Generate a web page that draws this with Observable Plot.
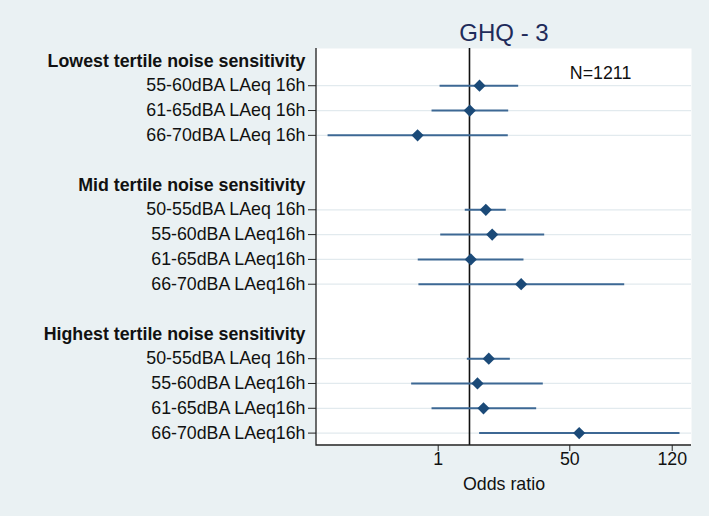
<!DOCTYPE html>
<html>
<head>
<meta charset="utf-8">
<script src="https://cdn.jsdelivr.net/npm/d3@7"></script>
<script src="https://cdn.jsdelivr.net/npm/@observablehq/plot@0.6"></script>
<style>
  html, body { margin: 0; padding: 0; background: #eaf1f3; }
  #chart svg { display: block; }
</style>
</head>
<body>
<div id="chart"></div>
<script>
// ---- data ----
const title = "GHQ - 3";
const sampleNote = "N=1211";
const groupNames = [
  "Lowest tertile noise sensitivity",
  "Mid tertile noise sensitivity",
  "Highest tertile noise sensitivity"
];
const rowGroup = [0, 0, 0, 1, 1, 1, 1, 2, 2, 2, 2];
const rowLabels = [
  "55-60dBA LAeq 16h", "61-65dBA LAeq 16h", "66-70dBA LAeq 16h",
  "50-55dBA LAeq 16h", "55-60dBA LAeq16h", "61-65dBA LAeq16h", "66-70dBA LAeq16h",
  "50-55dBA LAeq 16h", "55-60dBA LAeq16h", "61-65dBA LAeq16h", "66-70dBA LAeq16h"
];
const oddsRatio = [1.105, 1.003, 0.596, 1.177, 1.254, 1.013, 1.674, 1.212, 1.083, 1.150, 2.985];
const ciLow     = [0.742, 0.685, 0.243, 0.954, 0.747, 0.597, 0.601, 0.974, 0.559, 0.685, 1.101];
const ciHigh    = [1.625, 1.471, 1.465, 1.436, 2.106, 1.713, 4.676, 1.495, 2.077, 1.944, 8.115];
const referenceOR = 1;
const xTickValues = [0.732, 2.718, 7.545];
const xTickLabels = ["1", "50", "120"];
const xDomain = [0.2176, 9.145];

// ---- build slots: header, rows, blank ----
const headers = [];
const rows = [];
let slot = 0;
groupNames.forEach((g, gi) => {
  headers.push({slot, name: g});
  slot++;
  rowLabels.forEach((lab, i) => {
    if (rowGroup[i] === gi) {
      rows.push({slot, label: lab, or: oddsRatio[i], lo: ciLow[i], hi: ciHigh[i]});
      slot++;
    }
  });
  if (gi < groupNames.length - 1) slot++;
});
const slotDomain = d3.range(slot);
const labelBySlot = new Map(rows.map(r => [r.slot, r.label]));
const xTicks = xTickValues.map((v, i) => ({v, label: xTickLabels[i]}));

const font = "'Liberation Sans', Arial, Helvetica, sans-serif";

// left + bottom axis lines (frame edges)
function axisLines() {
  const dims = [...arguments].find(a => a && a.marginLeft !== undefined && a.width !== undefined);
  const {width, height, marginLeft, marginRight, marginTop, marginBottom} = dims;
  const ns = "http://www.w3.org/2000/svg";
  const p = document.createElementNS(ns, "path");
  const x0 = marginLeft, y0 = marginTop, y1 = height - marginBottom, x1 = width - marginRight;
  p.setAttribute("d", `M${x0},${y0}V${y1}H${x1}`);
  p.setAttribute("fill", "none");
  p.setAttribute("stroke", "#222");
  p.setAttribute("stroke-width", "1.3");
  return p;
}

const chart = Plot.plot({
  width: 709,
  height: 516,
  marginLeft: 316,
  marginRight: 18,
  marginTop: 48,
  marginBottom: 71,
  style: {fontFamily: font, fontSize: "17.8px", background: "transparent", color: "#111"},
  x: {type: "log", domain: xDomain},
  y: {type: "point", domain: slotDomain, padding: 0.5, round: false},
  marks: [
    Plot.frame({fill: "white", stroke: "none"}),
    Plot.ruleY(rows, {y: "slot", stroke: "#e2eaee", strokeWidth: 1.2}),
    Plot.ruleX([referenceOR], {stroke: "#111", strokeWidth: 1.6}),
    Plot.link(rows, {x1: "lo", x2: "hi", y1: "slot", y2: "slot", stroke: "#3d6894", strokeWidth: 2}),
    Plot.dot(rows, {x: "or", y: "slot", symbol: "diamond2", r: 5.5, fill: "#1b4a78", stroke: "none"}),
    Plot.axisY({
      ticks: rows.map(r => r.slot),
      tickFormat: s => labelBySlot.get(s),
      tickSize: 8, tickPadding: 3, stroke: "#222", label: null
    }),
    Plot.text(headers, {y: "slot", text: "name", frameAnchor: "left", textAnchor: "end", dx: -11, fontWeight: "bold"}),
    Plot.axisX({
      ticks: xTickValues,
      tickFormat: () => "",
      tickSize: 6, tickPadding: 5, stroke: "#222",
      label: "Odds ratio", labelAnchor: "center", labelArrow: "none", labelOffset: 44
    }),
    Plot.text(xTicks, {x: "v", text: "label", frameAnchor: "bottom", dy: 19}),
    axisLines,
    Plot.text([sampleNote], {x: () => 2.72, y: () => 0, text: d => d, textAnchor: "start", dy: 12}),
    Plot.text([title], {frameAnchor: "top", text: d => d, dy: -8, lineAnchor: "bottom", fontSize: 24, fill: "#1e2b5a"})
  ]
});
document.getElementById("chart").appendChild(chart);
</script>
</body>
</html>
